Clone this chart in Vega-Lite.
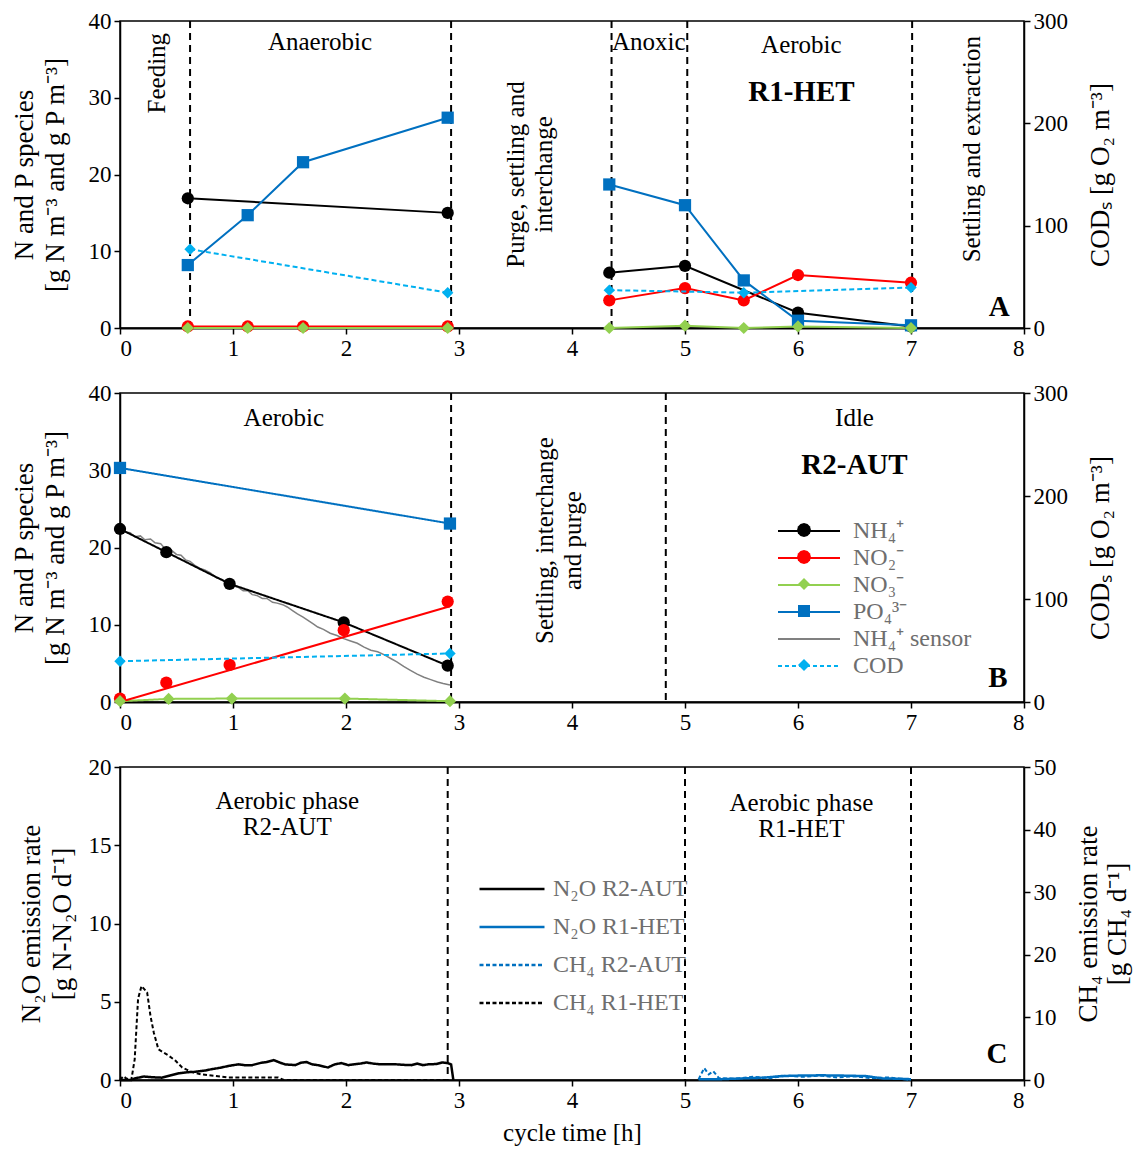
{
 "$schema": "https://vega.github.io/schema/vega-lite/v6.json",
 "padding": {"left": 9, "top": 9, "right": 2, "bottom": 2},
 "spacing": 20,
 "config": {
  "font": "Liberation Serif",
  "view": {"stroke": "#000", "strokeWidth": 1.5},
  "axis": {"grid": false, "domainColor": "#000", "domainWidth": 1.5, "tickColor": "#000", "tickWidth": 1.5, "tickSize": 6, "labelColor": "#000", "labelFontSize": 23, "labelPadding": 3, "titleColor": "#000", "titleFontSize": 27, "titleFontWeight": "normal", "titleLineHeight": 31},
  "legend": {"labelFont": "Liberation Serif"}
 },
 "resolve": {"scale": {"color": "independent", "shape": "independent", "fill": "independent", "strokeDash": "independent"}, "legend": {"color": "independent", "shape": "independent", "fill": "independent", "strokeDash": "independent"}},
 "datasets": {
  "A_rules": [{"t": 0.62}, {"t": 2.93}, {"t": 4.35}, {"t": 5.02}, {"t": 7.01}],
  "A_pts": [
   {"t": 0.6, "v": 16.9, "s": "NH4", "g": 1}, {"t": 2.9, "v": 15.0, "s": "NH4", "g": 1},
   {"t": 4.33, "v": 7.2, "s": "NH4", "g": 2}, {"t": 5.0, "v": 8.1, "s": "NH4", "g": 2}, {"t": 6.0, "v": 2.0, "s": "NH4", "g": 2}, {"t": 7.0, "v": 0.2, "s": "NH4", "g": 2},
   {"t": 0.6, "v": 8.2, "s": "PO4", "g": 1}, {"t": 1.13, "v": 14.7, "s": "PO4", "g": 1}, {"t": 1.62, "v": 21.6, "s": "PO4", "g": 1}, {"t": 2.9, "v": 27.4, "s": "PO4", "g": 1},
   {"t": 4.33, "v": 18.7, "s": "PO4", "g": 2}, {"t": 5.0, "v": 16.0, "s": "PO4", "g": 2}, {"t": 5.52, "v": 6.2, "s": "PO4", "g": 2}, {"t": 6.0, "v": 0.95, "s": "PO4", "g": 2}, {"t": 7.0, "v": 0.35, "s": "PO4", "g": 2},
   {"t": 0.6, "v": 0.2, "s": "NO2", "g": 1}, {"t": 1.13, "v": 0.2, "s": "NO2", "g": 1}, {"t": 1.62, "v": 0.2, "s": "NO2", "g": 1}, {"t": 2.9, "v": 0.2, "s": "NO2", "g": 1},
   {"t": 4.33, "v": 3.6, "s": "NO2", "g": 2}, {"t": 5.0, "v": 5.2, "s": "NO2", "g": 2}, {"t": 5.52, "v": 3.6, "s": "NO2", "g": 2}, {"t": 6.0, "v": 6.9, "s": "NO2", "g": 2}, {"t": 7.0, "v": 5.9, "s": "NO2", "g": 2},
   {"t": 0.6, "v": 0, "s": "NO3", "g": 1}, {"t": 1.13, "v": 0, "s": "NO3", "g": 1}, {"t": 1.62, "v": 0, "s": "NO3", "g": 1}, {"t": 2.9, "v": 0, "s": "NO3", "g": 1},
   {"t": 4.33, "v": 0, "s": "NO3", "g": 2}, {"t": 5.0, "v": 0.3, "s": "NO3", "g": 2}, {"t": 5.52, "v": 0, "s": "NO3", "g": 2}, {"t": 6.0, "v": 0.2, "s": "NO3", "g": 2}, {"t": 7.0, "v": 0, "s": "NO3", "g": 2}
  ],
  "A_cod": [{"t": 0.62, "v": 77, "g": 1}, {"t": 2.9, "v": 34.5, "g": 1}, {"t": 4.33, "v": 37, "g": 2}, {"t": 5.52, "v": 34.5, "g": 2}, {"t": 7.0, "v": 39.5, "g": 2}],
  "A_txt": [{"t": 1.77, "v": 37.3, "label": "Anaerobic"}, {"t": 4.68, "v": 37.3, "label": "Anoxic"}, {"t": 6.03, "v": 36.9, "label": "Aerobic"}],
  "A_rot": [{"t": 0.33, "v": 33.2, "label": "Feeding"}, {"t": 3.5, "v": 20.0, "label": "Purge, settling and|interchange"}, {"t": 7.54, "v": 23.3, "label": "Settling and extraction"}],
  "A_bold": [{"t": 6.03, "v": 30.8, "label": "R1-HET"}, {"t": 7.78, "v": 2.8, "label": "A"}],
  "B_rules": [{"t": 2.93}, {"t": 4.83}],
  "B_pts": [
   {"t": 0, "v": 22.4, "s": "NH4"}, {"t": 0.41, "v": 19.4, "s": "NH4"}, {"t": 0.97, "v": 15.3, "s": "NH4"}, {"t": 1.98, "v": 10.3, "s": "NH4"}, {"t": 2.9, "v": 4.7, "s": "NH4"},
   {"t": 0, "v": 30.3, "s": "PO4"}, {"t": 2.92, "v": 23.1, "s": "PO4"},
   {"t": 0, "v": 0.45, "s": "NO2"}, {"t": 0.41, "v": 2.5, "s": "NO2"}, {"t": 0.97, "v": 4.8, "s": "NO2"}, {"t": 1.98, "v": 9.3, "s": "NO2"}, {"t": 2.9, "v": 13.0, "s": "NO2"},
   {"t": 0, "v": 0.1, "s": "NO3"}, {"t": 0.43, "v": 0.4, "s": "NO3"}, {"t": 0.99, "v": 0.45, "s": "NO3"}, {"t": 1.99, "v": 0.45, "s": "NO3"}, {"t": 2.92, "v": 0.1, "s": "NO3"}
  ],
  "B_fit": [{"t": 0, "v": 0, "s": "NO2"}, {"t": 2.92, "v": 12.4, "s": "NO2"}],
  "B_leg": [{"k": "NH4_"}, {"k": "NO2_"}, {"k": "NO3_"}, {"k": "PO4_"}, {"k": "SENS_"}, {"k": "COD_"}],
  "B_sens": [
   {"t": 0, "v": 22.4}, {"t": 0.05, "v": 22.0}, {"t": 0.09, "v": 21.9}, {"t": 0.13, "v": 21.4}, {"t": 0.18, "v": 21.5}, {"t": 0.22, "v": 21.0}, {"t": 0.27, "v": 21.1}, {"t": 0.31, "v": 20.6}, {"t": 0.36, "v": 20.5}, {"t": 0.4, "v": 19.8}, {"t": 0.45, "v": 19.7}, {"t": 0.5, "v": 19.1}, {"t": 0.54, "v": 19.0}, {"t": 0.58, "v": 18.4}, {"t": 0.62, "v": 18.2}, {"t": 0.67, "v": 17.6}, {"t": 0.71, "v": 17.3}, {"t": 0.75, "v": 17.1}, {"t": 0.8, "v": 16.7}, {"t": 0.85, "v": 16.1}, {"t": 0.9, "v": 15.9}, {"t": 0.95, "v": 15.3}, {"t": 1.0, "v": 15.0}, {"t": 1.04, "v": 14.9}, {"t": 1.09, "v": 14.4}, {"t": 1.13, "v": 14.4}, {"t": 1.17, "v": 13.9}, {"t": 1.21, "v": 13.8}, {"t": 1.26, "v": 13.4}, {"t": 1.3, "v": 13.4}, {"t": 1.35, "v": 12.9}, {"t": 1.39, "v": 12.8}, {"t": 1.44, "v": 12.6}, {"t": 1.48, "v": 12.3}, {"t": 1.53, "v": 11.8}, {"t": 1.57, "v": 11.4}, {"t": 1.62, "v": 11.0}, {"t": 1.66, "v": 10.6}, {"t": 1.71, "v": 10.1}, {"t": 1.75, "v": 9.7}, {"t": 1.8, "v": 9.4}, {"t": 1.86, "v": 8.9}, {"t": 1.92, "v": 8.6}, {"t": 1.98, "v": 8.2}, {"t": 2.04, "v": 7.9}, {"t": 2.1, "v": 7.6}, {"t": 2.16, "v": 7.1}, {"t": 2.22, "v": 6.7}, {"t": 2.28, "v": 6.5}, {"t": 2.34, "v": 6.1}, {"t": 2.4, "v": 5.6}, {"t": 2.45, "v": 5.2}, {"t": 2.51, "v": 4.6}, {"t": 2.57, "v": 4.1}, {"t": 2.63, "v": 3.6}, {"t": 2.69, "v": 3.2}, {"t": 2.75, "v": 2.9}, {"t": 2.81, "v": 2.6}, {"t": 2.86, "v": 2.4}, {"t": 2.92, "v": 2.2}
  ],
  "B_cod": [{"t": 0, "v": 39.6}, {"t": 2.92, "v": 47.1}],
  "B_txt": [{"t": 1.45, "v": 36.7, "label": "Aerobic"}, {"t": 6.5, "v": 36.7, "label": "Idle"}],
  "B_rot": [{"t": 3.76, "v": 20.9, "label": "Settling, interchange|and purge"}],
  "B_bold": [{"t": 6.5, "v": 30.7, "label": "R2-AUT"}, {"t": 7.77, "v": 3.1, "label": "B"}],
  "C_rules": [{"t": 2.9}, {"t": 5.0}, {"t": 7.0}],
  "C_n2o": [
   {"t": 0, "v": 0, "s": "N2O_R2"}, {"t": 0.1, "v": 0, "s": "N2O_R2"}, {"t": 0.13, "v": 0.1, "s": "N2O_R2"}, {"t": 0.21, "v": 0.22, "s": "N2O_R2"}, {"t": 0.3, "v": 0.17, "s": "N2O_R2"}, {"t": 0.37, "v": 0.15, "s": "N2O_R2"}, {"t": 0.45, "v": 0.3, "s": "N2O_R2"}, {"t": 0.52, "v": 0.43, "s": "N2O_R2"}, {"t": 0.6, "v": 0.5, "s": "N2O_R2"}, {"t": 0.66, "v": 0.52, "s": "N2O_R2"}, {"t": 0.75, "v": 0.6, "s": "N2O_R2"}, {"t": 0.81, "v": 0.69, "s": "N2O_R2"}, {"t": 0.9, "v": 0.8, "s": "N2O_R2"}, {"t": 0.96, "v": 0.9, "s": "N2O_R2"}, {"t": 1.05, "v": 1.0, "s": "N2O_R2"}, {"t": 1.1, "v": 0.95, "s": "N2O_R2"}, {"t": 1.17, "v": 0.95, "s": "N2O_R2"}, {"t": 1.25, "v": 1.1, "s": "N2O_R2"}, {"t": 1.3, "v": 1.15, "s": "N2O_R2"}, {"t": 1.36, "v": 1.27, "s": "N2O_R2"}, {"t": 1.42, "v": 1.1, "s": "N2O_R2"}, {"t": 1.46, "v": 1.0, "s": "N2O_R2"}, {"t": 1.55, "v": 0.95, "s": "N2O_R2"}, {"t": 1.6, "v": 1.1, "s": "N2O_R2"}, {"t": 1.65, "v": 1.15, "s": "N2O_R2"}, {"t": 1.7, "v": 1.0, "s": "N2O_R2"}, {"t": 1.75, "v": 0.95, "s": "N2O_R2"}, {"t": 1.84, "v": 0.8, "s": "N2O_R2"}, {"t": 1.9, "v": 1.0, "s": "N2O_R2"}, {"t": 1.96, "v": 1.08, "s": "N2O_R2"}, {"t": 2.02, "v": 0.95, "s": "N2O_R2"}, {"t": 2.08, "v": 1.01, "s": "N2O_R2"}, {"t": 2.13, "v": 1.05, "s": "N2O_R2"}, {"t": 2.18, "v": 1.12, "s": "N2O_R2"}, {"t": 2.24, "v": 1.05, "s": "N2O_R2"}, {"t": 2.29, "v": 1.01, "s": "N2O_R2"}, {"t": 2.36, "v": 1.0, "s": "N2O_R2"}, {"t": 2.43, "v": 1.01, "s": "N2O_R2"}, {"t": 2.5, "v": 0.97, "s": "N2O_R2"}, {"t": 2.58, "v": 0.95, "s": "N2O_R2"}, {"t": 2.63, "v": 1.05, "s": "N2O_R2"}, {"t": 2.68, "v": 0.95, "s": "N2O_R2"}, {"t": 2.73, "v": 1.0, "s": "N2O_R2"}, {"t": 2.8, "v": 1.02, "s": "N2O_R2"}, {"t": 2.85, "v": 1.12, "s": "N2O_R2"}, {"t": 2.9, "v": 1.08, "s": "N2O_R2"}, {"t": 2.93, "v": 1.0, "s": "N2O_R2"}, {"t": 2.95, "v": 0, "s": "N2O_R2"},
   {"t": 5.12, "v": 0.05, "s": "N2O_R1"}, {"t": 5.3, "v": 0.05, "s": "N2O_R1"}, {"t": 5.5, "v": 0.1, "s": "N2O_R1"}, {"t": 5.7, "v": 0.15, "s": "N2O_R1"}, {"t": 5.85, "v": 0.25, "s": "N2O_R1"}, {"t": 6.0, "v": 0.28, "s": "N2O_R1"}, {"t": 6.2, "v": 0.3, "s": "N2O_R1"}, {"t": 6.4, "v": 0.28, "s": "N2O_R1"}, {"t": 6.6, "v": 0.25, "s": "N2O_R1"}, {"t": 6.75, "v": 0.1, "s": "N2O_R1"}, {"t": 6.9, "v": 0.08, "s": "N2O_R1"}, {"t": 7.0, "v": 0.05, "s": "N2O_R1"}
  ],
  "C_ch4": [
   {"t": 0, "v": 0, "s": "CH4_R1"}, {"t": 0.03, "v": 0.6, "s": "CH4_R1"}, {"t": 0.06, "v": 0.2, "s": "CH4_R1"}, {"t": 0.1, "v": 0, "s": "CH4_R1"}, {"t": 0.13, "v": 3.3, "s": "CH4_R1"}, {"t": 0.16, "v": 13, "s": "CH4_R1"}, {"t": 0.19, "v": 15, "s": "CH4_R1"}, {"t": 0.24, "v": 14, "s": "CH4_R1"}, {"t": 0.27, "v": 10.2, "s": "CH4_R1"}, {"t": 0.3, "v": 7.5, "s": "CH4_R1"}, {"t": 0.34, "v": 4.9, "s": "CH4_R1"}, {"t": 0.43, "v": 3.9, "s": "CH4_R1"}, {"t": 0.49, "v": 3.1, "s": "CH4_R1"}, {"t": 0.55, "v": 2.0, "s": "CH4_R1"}, {"t": 0.63, "v": 1.3, "s": "CH4_R1"}, {"t": 0.72, "v": 0.9, "s": "CH4_R1"}, {"t": 0.84, "v": 0.65, "s": "CH4_R1"}, {"t": 0.96, "v": 0.4, "s": "CH4_R1"}, {"t": 1.4, "v": 0.4, "s": "CH4_R1"}, {"t": 1.45, "v": 0, "s": "CH4_R1"}, {"t": 2.9, "v": 0, "s": "CH4_R1"},
   {"t": 5.12, "v": 0.1, "s": "CH4_R2"}, {"t": 5.17, "v": 1.9, "s": "CH4_R2"}, {"t": 5.21, "v": 0.9, "s": "CH4_R2"}, {"t": 5.25, "v": 1.4, "s": "CH4_R2"}, {"t": 5.3, "v": 0.3, "s": "CH4_R2"}, {"t": 5.45, "v": 0.2, "s": "CH4_R2"}, {"t": 5.6, "v": 0.5, "s": "CH4_R2"}, {"t": 5.75, "v": 0.3, "s": "CH4_R2"}, {"t": 5.9, "v": 0.7, "s": "CH4_R2"}, {"t": 6.05, "v": 0.5, "s": "CH4_R2"}, {"t": 6.2, "v": 0.7, "s": "CH4_R2"}, {"t": 6.35, "v": 0.4, "s": "CH4_R2"}, {"t": 6.5, "v": 0.6, "s": "CH4_R2"}, {"t": 6.65, "v": 0.3, "s": "CH4_R2"}, {"t": 6.8, "v": 0.4, "s": "CH4_R2"}, {"t": 6.95, "v": 0.1, "s": "CH4_R2"}, {"t": 7.0, "v": 0, "s": "CH4_R2"}
  ],
  "C_txt": [{"t": 1.48, "v": 17.8, "label": "Aerobic phase|R2-AUT"}, {"t": 6.03, "v": 17.7, "label": "Aerobic phase|R1-HET"}],
  "C_bold": [{"t": 7.76, "v": 1.65, "label": "C"}]
 },
 "vconcat": [
  {
   "width": 904, "height": 307,
   "encoding": {"x": {"field": "t", "type": "quantitative", "scale": {"domain": [0, 8], "nice": false, "zero": false}, "axis": {"values": [0, 1, 2, 3, 4, 5, 6, 7, 8], "title": null, "domainWidth": 2}}},
   "layer": [
    {"data": {"name": "A_rules"}, "mark": {"type": "rule", "strokeDash": [7, 5], "strokeWidth": 2, "color": "#000"}, "encoding": {}},
    {
     "encoding": {"y": {"field": "v", "type": "quantitative", "scale": {"domain": [0, 40], "nice": false}, "axis": {"orient": "left", "values": [0, 10, 20, 30, 40], "title": ["N and P species", "[g N m⁻³ and g P m⁻³]"], "titlePadding": 19}}},
     "layer": [
      {"data": {"name": "A_pts"}, "mark": {"type": "line", "strokeWidth": 2}, "encoding": {"color": {"field": "s", "type": "nominal", "scale": {"domain": ["NH4", "NO2", "NO3", "PO4", "SENS", "COD"], "range": ["#000000", "#ff0000", "#92d050", "#0070c0", "#808080", "#00b0f0"]}, "legend": null}, "detail": {"field": "g", "type": "nominal"}}},
      {"data": {"name": "A_pts"}, "mark": {"type": "point", "filled": true, "opacity": 1, "size": 150}, "encoding": {"color": {"field": "s", "type": "nominal", "scale": {"domain": ["NH4", "NO2", "NO3", "PO4", "SENS", "COD"], "range": ["#000000", "#ff0000", "#92d050", "#0070c0", "#808080", "#00b0f0"]}, "legend": null}, "shape": {"field": "s", "type": "nominal", "scale": {"domain": ["NH4", "NO2", "NO3", "PO4"], "range": ["circle", "circle", "diamond", "square"]}, "legend": null}}},
      {"data": {"name": "A_txt"}, "mark": {"type": "text", "fontSize": 25, "baseline": "middle", "align": "center", "color": "#000"}, "encoding": {"text": {"field": "label", "type": "nominal"}}},
      {"data": {"name": "A_rot"}, "mark": {"type": "text", "fontSize": 25, "angle": 270, "baseline": "middle", "align": "center", "lineBreak": "|", "lineHeight": 28, "color": "#000"}, "encoding": {"text": {"field": "label", "type": "nominal"}}},
      {"data": {"name": "A_bold"}, "mark": {"type": "text", "fontSize": 29, "fontWeight": "bold", "baseline": "middle", "align": "center", "color": "#000"}, "encoding": {"text": {"field": "label", "type": "nominal"}}}
     ]
    },
    {
     "data": {"name": "A_cod"},
     "encoding": {"y": {"field": "v", "type": "quantitative", "scale": {"domain": [0, 300], "nice": false}, "axis": {"orient": "right", "values": [0, 100, 200, 300], "title": "CODₛ [g O₂ m⁻³]", "titleAngle": 270, "titleBaseline": "top", "titlePadding": 20}}},
     "layer": [
      {"mark": {"type": "line", "color": "#00b0f0", "strokeDash": [5, 3], "strokeWidth": 2}, "encoding": {"detail": {"field": "g", "type": "nominal"}}},
      {"mark": {"type": "point", "shape": "diamond", "filled": true, "opacity": 1, "size": 130, "color": "#00b0f0"}, "encoding": {}}
     ]
    }
   ],
   "resolve": {"scale": {"y": "independent"}}
  },
  {
   "width": 904, "height": 309,
   "encoding": {"x": {"field": "t", "type": "quantitative", "scale": {"domain": [0, 8], "nice": false, "zero": false}, "axis": {"values": [0, 1, 2, 3, 4, 5, 6, 7, 8], "title": null, "domainWidth": 2}}},
   "layer": [
    {"data": {"name": "B_rules"}, "mark": {"type": "rule", "strokeDash": [7, 5], "strokeWidth": 2, "color": "#000"}, "encoding": {}},
    {
     "encoding": {"y": {"field": "v", "type": "quantitative", "scale": {"domain": [0, 40], "nice": false}, "axis": {"orient": "left", "values": [0, 10, 20, 30, 40], "title": ["N and P species", "[g N m⁻³ and g P m⁻³]"], "titlePadding": 19}}},
     "layer": [
      {"data": {"name": "B_sens"}, "mark": {"type": "line", "strokeWidth": 1.5, "color": "#808080"}, "encoding": {}},
      {"data": {"name": "B_pts"}, "transform": [{"filter": "datum.s != 'NO2'"}], "mark": {"type": "line", "strokeWidth": 2}, "encoding": {
        "color": {"field": "s", "type": "nominal", "scale": {"domain": ["NH4", "NO2", "NO3", "PO4", "SENS", "COD"], "range": ["#000000", "#ff0000", "#92d050", "#0070c0", "#808080", "#00b0f0"]},
         "legend": {"orient": "none", "legendX": 677, "legendY": 126, "direction": "vertical", "title": null, "padding": 0, "symbolSize": 196, "symbolType": "M-4.43,0H4.43", "symbolStrokeWidth": 2, "labelOffset": 32, "labelFontSize": 24, "labelColor": "#6e6e6e", "rowPadding": 3,
          "labelExpr": "datum.value == 'NH4' ? 'NH₄⁺' : datum.value == 'NO2' ? 'NO₂⁻' : datum.value == 'NO3' ? 'NO₃⁻' : datum.value == 'PO4' ? 'PO₄³⁻' : datum.value == 'SENS' ? 'NH₄⁺ sensor' : 'COD'"}},
        "strokeDash": {"field": "s", "type": "nominal", "scale": {"domain": ["NH4", "NO2", "NO3", "PO4", "SENS", "COD"], "range": [[1, 0], [1, 0], [1, 0], [1, 0], [1, 0], [4, 3]]},
         "legend": {"orient": "none", "legendX": 677, "legendY": 126, "direction": "vertical", "title": null, "padding": 0, "symbolSize": 196, "symbolType": "M-4.43,0H4.43", "symbolStrokeWidth": 2, "labelOffset": 32, "labelFontSize": 24, "labelColor": "#6e6e6e", "rowPadding": 3,
          "labelExpr": "datum.value == 'NH4' ? 'NH₄⁺' : datum.value == 'NO2' ? 'NO₂⁻' : datum.value == 'NO3' ? 'NO₃⁻' : datum.value == 'PO4' ? 'PO₄³⁻' : datum.value == 'SENS' ? 'NH₄⁺ sensor' : 'COD'"}}}},
      {"data": {"name": "B_fit"}, "mark": {"type": "line", "strokeWidth": 2, "color": "#ff0000"}, "encoding": {}},
      {"data": {"name": "B_pts"}, "transform": [{"filter": "datum.s == 'NH4' || datum.s == 'NO2'"}], "mark": {"type": "point", "shape": "circle", "filled": true, "opacity": 1, "size": 150}, "encoding": {"color": {"field": "s", "type": "nominal", "scale": {"domain": ["NH4", "NO2", "NO3", "PO4", "SENS", "COD"], "range": ["#000000", "#ff0000", "#92d050", "#0070c0", "#808080", "#00b0f0"]}, "legend": null}}},
      {"data": {"name": "B_pts"}, "transform": [{"filter": "datum.s == 'NO3'"}], "mark": {"type": "point", "shape": "diamond", "filled": true, "opacity": 1, "size": 150, "color": "#92d050"}, "encoding": {}},
      {"data": {"name": "B_pts"}, "transform": [{"filter": "datum.s == 'PO4'"}], "mark": {"type": "point", "shape": "square", "filled": true, "opacity": 1, "size": 150, "color": "#0070c0"}, "encoding": {}},
      {"data": {"name": "B_leg"}, "transform": [{"filter": "false"}], "mark": {"type": "point", "filled": true, "opacity": 1}, "encoding": {
        "fill": {"field": "k", "type": "nominal", "scale": {"domain": ["NH4_", "NO2_", "NO3_", "PO4_", "SENS_", "COD_"], "range": ["#000000", "#ff0000", "#92d050", "#0070c0", "#808080", "#00b0f0"]},
         "legend": {"orient": "none", "legendX": 672, "legendY": 125, "direction": "vertical", "title": null, "padding": 0, "symbolSize": 576, "symbolStrokeWidth": 0, "symbolOpacity": 1, "labelExpr": "''", "labelFontSize": 24, "rowPadding": 3}},
        "shape": {"field": "k", "type": "nominal", "scale": {"domain": ["NH4_", "NO2_", "NO3_", "PO4_", "SENS_", "COD_"], "range": ["M0.58,0L0.502,0.29L0.29,0.502L0,0.58L-0.29,0.502L-0.502,0.29L-0.58,0L-0.502,-0.29L-0.29,-0.502L0,-0.58L0.29,-0.502L0.502,-0.29Z", "M0.58,0L0.502,0.29L0.29,0.502L0,0.58L-0.29,0.502L-0.502,0.29L-0.58,0L-0.502,-0.29L-0.29,-0.502L0,-0.58L0.29,-0.502L0.502,-0.29Z", "M0,-0.5L0.5,0L0,0.5L-0.5,0Z", "M-0.5,-0.5H0.5V0.5H-0.5Z", "M0,0", "M0,-0.5L0.5,0L0,0.5L-0.5,0Z"]},
         "legend": {"orient": "none", "legendX": 672, "legendY": 125, "direction": "vertical", "title": null, "padding": 0, "symbolSize": 576, "symbolStrokeWidth": 0, "symbolOpacity": 1, "labelExpr": "''", "labelFontSize": 24, "rowPadding": 3}}}},
      {"data": {"name": "B_txt"}, "mark": {"type": "text", "fontSize": 25, "baseline": "middle", "align": "center", "color": "#000"}, "encoding": {"text": {"field": "label", "type": "nominal"}}},
      {"data": {"name": "B_rot"}, "mark": {"type": "text", "fontSize": 25, "angle": 270, "baseline": "middle", "align": "center", "lineBreak": "|", "lineHeight": 28, "color": "#000"}, "encoding": {"text": {"field": "label", "type": "nominal"}}},
      {"data": {"name": "B_bold"}, "mark": {"type": "text", "fontSize": 29, "fontWeight": "bold", "baseline": "middle", "align": "center", "color": "#000"}, "encoding": {"text": {"field": "label", "type": "nominal"}}}
     ]
    },
    {
     "data": {"name": "B_cod"},
     "encoding": {"y": {"field": "v", "type": "quantitative", "scale": {"domain": [0, 300], "nice": false}, "axis": {"orient": "right", "values": [0, 100, 200, 300], "title": "CODₛ [g O₂ m⁻³]", "titleAngle": 270, "titleBaseline": "top", "titlePadding": 20}}},
     "layer": [
      {"mark": {"type": "line", "color": "#00b0f0", "strokeDash": [5, 3], "strokeWidth": 2}, "encoding": {}},
      {"mark": {"type": "point", "shape": "diamond", "filled": true, "opacity": 1, "size": 130, "color": "#00b0f0"}, "encoding": {}}
     ]
    }
   ],
   "resolve": {"scale": {"y": "independent"}}
  },
  {
   "width": 904, "height": 313,
   "encoding": {"x": {"field": "t", "type": "quantitative", "scale": {"domain": [0, 8], "nice": false, "zero": false}, "axis": {"values": [0, 1, 2, 3, 4, 5, 6, 7, 8], "title": "cycle time [h]", "titleFontSize": 25, "titlePadding": 8, "domainWidth": 2}}},
   "layer": [
    {"data": {"name": "C_rules"}, "mark": {"type": "rule", "strokeDash": [7, 5], "strokeWidth": 2, "color": "#000"}, "encoding": {}},
    {
     "encoding": {"y": {"field": "v", "type": "quantitative", "scale": {"domain": [0, 20], "nice": false}, "axis": {"orient": "left", "values": [0, 5, 10, 15, 20], "title": ["N₂O emission rate", "[g N-N₂O d⁻¹]"], "titlePadding": 12}}},
     "layer": [
      {"data": {"name": "C_n2o"}, "mark": {"type": "line", "strokeWidth": 2.5}, "encoding": {
        "color": {"field": "s", "type": "nominal", "scale": {"domain": ["N2O_R2", "N2O_R1", "CH4_R2", "CH4_R1"], "range": ["#000000", "#0070c0", "#0070c0", "#000000"]},
         "legend": {"orient": "none", "legendX": 380, "legendY": 110, "direction": "vertical", "title": null, "padding": 0, "symbolSize": 100, "symbolType": "M-6.5,0H6.5", "symbolStrokeWidth": 2.5, "labelOffset": 29, "labelFontSize": 24, "labelColor": "#6e6e6e", "rowPadding": 14,
          "labelExpr": "datum.value == 'N2O_R2' ? 'N₂O R2-AUT' : datum.value == 'N2O_R1' ? 'N₂O R1-HET' : datum.value == 'CH4_R2' ? 'CH₄ R2-AUT' : 'CH₄ R1-HET'"}},
        "strokeDash": {"field": "s", "type": "nominal", "scale": {"domain": ["N2O_R2", "N2O_R1", "CH4_R2", "CH4_R1"], "range": [[1, 0], [1, 0], [4, 2.5], [4, 2.5]]},
         "legend": {"orient": "none", "legendX": 380, "legendY": 110, "direction": "vertical", "title": null, "padding": 0, "symbolSize": 100, "symbolType": "M-6.5,0H6.5", "symbolStrokeWidth": 2.5, "labelOffset": 29, "labelFontSize": 24, "labelColor": "#6e6e6e", "rowPadding": 14,
          "labelExpr": "datum.value == 'N2O_R2' ? 'N₂O R2-AUT' : datum.value == 'N2O_R1' ? 'N₂O R1-HET' : datum.value == 'CH4_R2' ? 'CH₄ R2-AUT' : 'CH₄ R1-HET'"}}}},
      {"data": {"name": "C_txt"}, "mark": {"type": "text", "fontSize": 25, "baseline": "middle", "align": "center", "lineBreak": "|", "lineHeight": 26, "color": "#000"}, "encoding": {"text": {"field": "label", "type": "nominal"}}},
      {"data": {"name": "C_bold"}, "mark": {"type": "text", "fontSize": 29, "fontWeight": "bold", "baseline": "middle", "align": "center", "color": "#000"}, "encoding": {"text": {"field": "label", "type": "nominal"}}}
     ]
    },
    {
     "data": {"name": "C_ch4"},
     "encoding": {"y": {"field": "v", "type": "quantitative", "scale": {"domain": [0, 50], "nice": false}, "axis": {"orient": "right", "values": [0, 10, 20, 30, 40, 50], "title": ["CH₄ emission rate", "[g CH₄ d⁻¹]"], "titleAngle": 270, "titleBaseline": "top", "titlePadding": -10, "titleLineHeight": 29}}},
     "layer": [
      {"mark": {"type": "line", "strokeWidth": 2}, "encoding": {
        "color": {"field": "s", "type": "nominal", "scale": {"domain": ["N2O_R2", "N2O_R1", "CH4_R2", "CH4_R1"], "range": ["#000000", "#0070c0", "#0070c0", "#000000"]}},
        "strokeDash": {"field": "s", "type": "nominal", "scale": {"domain": ["N2O_R2", "N2O_R1", "CH4_R2", "CH4_R1"], "range": [[1, 0], [1, 0], [4, 2.5], [4, 2.5]]}}}}
     ]
    }
   ],
   "resolve": {"scale": {"y": "independent"}}
  }
 ]
}
